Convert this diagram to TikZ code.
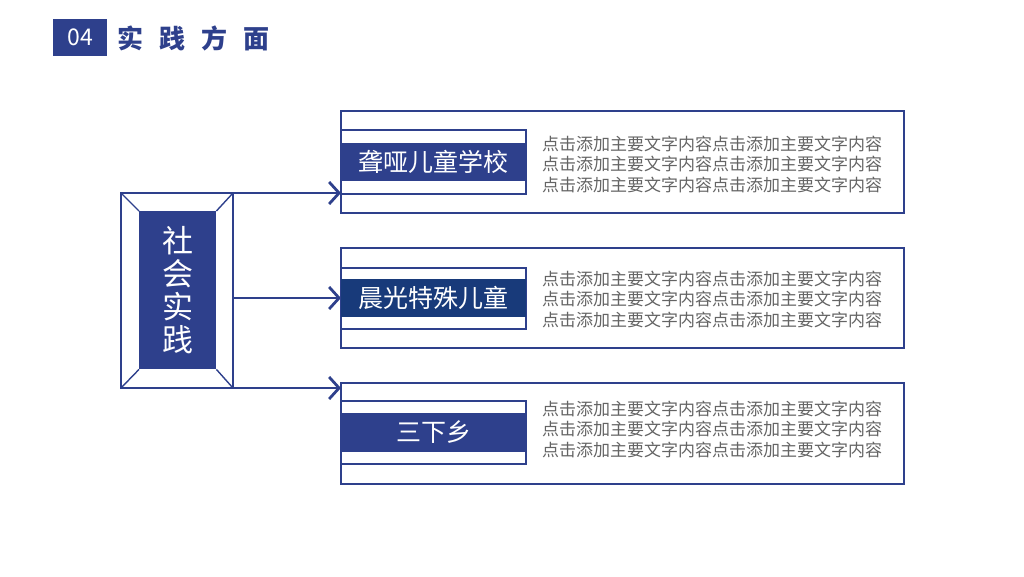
\documentclass[tikz,border=0pt]{standalone}
\usepackage{fontspec}
\setmainfont{Noto Sans CJK SC}
\usetikzlibrary{arrows.meta}

\definecolor{mainblue}{RGB}{46,64,140}
\definecolor{deepblue}{RGB}{24,58,122}
\definecolor{bodygray}{RGB}{100,100,100}

\begin{document}
\begin{tikzpicture}[x=1pt,y=-1pt,
  frame/.style={draw=mainblue,line width=2pt,inner sep=0pt,outer sep=0pt,anchor=north west},
  band/.style={fill=mainblue,inner sep=0pt,outer sep=0pt,anchor=north west,text=white,
    minimum width=185pt,font=\fontsize{25}{28}\selectfont},
  body/.style={anchor=west,align=left,text=bodygray,inner sep=0pt,
    font=\fontsize{17}{20.5}\selectfont},
  arr/.style={draw=mainblue,line width=1.3pt,
    -{Straight Barb[length=10pt,width=22pt,line width=2.8pt]}}]
% Canvas
\useasboundingbox (0,0) rectangle (1024,576);

% Header
\node[fill=mainblue,text=white,minimum width=54pt,minimum height=37pt,inner sep=0pt,
  font=\fontsize{23}{26}\selectfont] (num) at (80,37.5) {04};
\node[anchor=west,text=mainblue,inner sep=0pt,font=\fontsize{26}{30}\selectfont\bfseries]
  (title) at (117,38) {实\hspace{16pt}践\hspace{16pt}方\hspace{16pt}面};

% Left box
\node[frame,minimum width=112pt,minimum height=195pt] (sj) at (121,193) {};
\node[fill=mainblue,inner sep=0pt,anchor=north west,minimum width=77pt,minimum height=158pt]
  (sjin) at (139,211) {};
\draw[mainblue,line width=1.4pt] (sj.north west) -- (sjin.north west);
\draw[mainblue,line width=1.4pt] (sj.north east) -- (sjin.north east);
\draw[mainblue,line width=1.4pt] (sj.south west) -- (sjin.south west);
\draw[mainblue,line width=1.4pt] (sj.south east) -- (sjin.south east);
\node[text=white,align=center,inner sep=0pt,font=\fontsize{31}{33}\selectfont]
  (sjtext) at (sjin.center) {社\\会\\实\\践};

% Right boxes
\node[frame,minimum width=563pt,minimum height=102pt] (b1) at (341,111) {};
\node[frame,minimum width=185pt,minimum height=64pt] (t1) at (341,130) {};
\node[band,minimum height=38pt] (l1) at (341,143) {聋哑儿童学校};
\node[body] (d1) at (542,164) {点击添加主要文字内容点击添加主要文字内容\\点击添加主要文字内容点击添加主要文字内容\\点击添加主要文字内容点击添加主要文字内容};

\node[frame,minimum width=563pt,minimum height=100pt] (b2) at (341,248) {};
\node[frame,minimum width=185pt,minimum height=61pt] (t2) at (341,268) {};
\node[band,fill=deepblue,minimum height=38pt] (l2) at (341,279) {晨光特殊儿童};
\node[body] (d2) at (542,299) {点击添加主要文字内容点击添加主要文字内容\\点击添加主要文字内容点击添加主要文字内容\\点击添加主要文字内容点击添加主要文字内容};

\node[frame,minimum width=563pt,minimum height=101pt] (b3) at (341,383) {};
\node[frame,minimum width=185pt,minimum height=63pt] (t3) at (341,401) {};
\node[band,minimum height=39pt] (l3) at (341,413) {三下乡};
\node[body] (d3) at (542,429) {点击添加主要文字内容点击添加主要文字内容\\点击添加主要文字内容点击添加主要文字内容\\点击添加主要文字内容点击添加主要文字内容};

% Arrows
\draw[arr] (sj.north east) -- (sj.north east -| b1.west);
\draw[arr] (sj.east |- l2.center) -- (l2.west);
\draw[arr] (sj.south east) -- (sj.south east -| b3.west);
\end{tikzpicture}
\end{document}
